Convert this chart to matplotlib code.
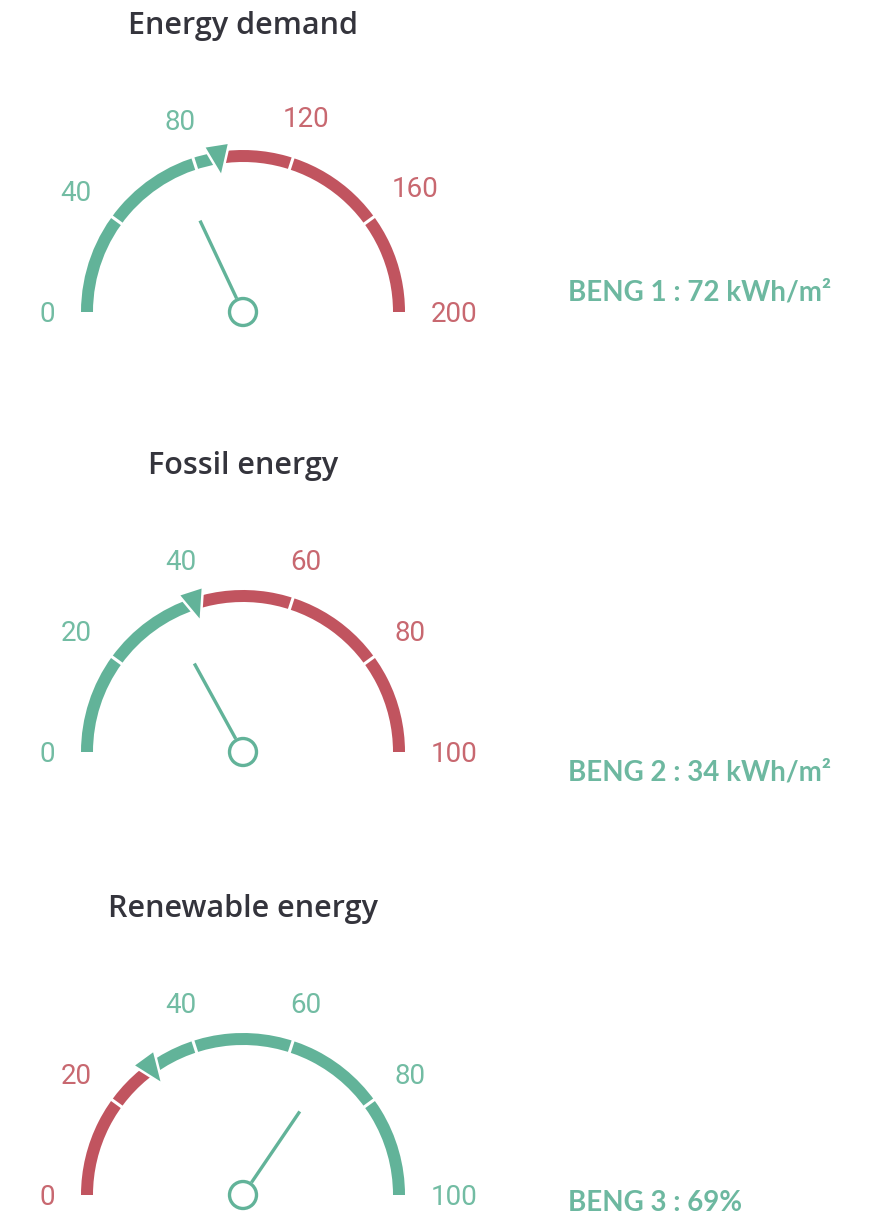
import matplotlib.pyplot as plt
from matplotlib.patches import Wedge, Circle, Polygon
import numpy as np

# gauge definitions
titles = ["Energy demand", "Fossil energy", "Renewable energy"]
scale_max = [200, 100, 100]
tick_step = [40, 20, 20]
thresholds = [90, 40, 30]
values = [72, 34, 69]
low_is_good = [True, True, False]
units = [" kWh/m²", " kWh/m²", "%"]

GREEN = "#62b399"
RED = "#c1545f"
GREEN_TXT = "#72bca3"
RED_TXT = "#c86870"
BENG_TXT = "#6db8a0"

W_PX, H_PX = 881, 1216
CX = 243
CENTERS = [312, 752, 1195]      # gauge hub rows, pixels from top
BENG_BASE = [300, 781, 1211]
R, ARC_W = 156, 12

fig = plt.figure(figsize=(W_PX / 100, H_PX / 100), dpi=100)
ax = fig.add_axes([0, 0, 1, 1])
ax.set_xlim(0, W_PX)
ax.set_ylim(0, H_PX)
ax.axis("off")


def ang(v, vmax):
    return 180.0 - 180.0 * v / vmax


def polar(cx, cy, r, deg):
    a = np.radians(deg)
    return cx + r * np.cos(a), cy + r * np.sin(a)


for i in range(len(titles)):
    vmax, step, thr, val = scale_max[i], tick_step[i], thresholds[i], values[i]
    cx, cy = CX, H_PX - CENTERS[i]
    lo_col, hi_col = (GREEN, RED) if low_is_good[i] else (RED, GREEN)
    lo_txt, hi_txt = (GREEN_TXT, RED_TXT) if low_is_good[i] else (RED_TXT, GREEN_TXT)

    # coloured bands
    t_thr = ang(thr, vmax)
    ax.add_patch(Wedge((cx, cy), R + ARC_W / 2, t_thr, 180, width=ARC_W,
                       facecolor=lo_col, lw=0))
    ax.add_patch(Wedge((cx, cy), R + ARC_W / 2, 0, t_thr, width=ARC_W,
                       facecolor=hi_col, lw=0))

    ticks = np.arange(0, vmax + 1, step)
    for t in ticks[1:-1]:
        a = ang(t, vmax)
        x0, y0 = polar(cx, cy, R - ARC_W, a)
        x1, y1 = polar(cx, cy, R + ARC_W, a)
        ax.plot([x0, x1], [y0, y1], color="white", lw=2.2, solid_capstyle="butt")

    # tick labels
    for t in ticks:
        a = ang(t, vmax)
        s = str(int(t))
        w = 15.7 * len(s)
        rr = R + 32 + 0.5 * w * abs(np.cos(np.radians(a))) + 10 * abs(np.sin(np.radians(a)))
        tx, ty = polar(cx, cy, rr, a)
        ax.text(tx, ty - 10, s, ha="center", va="baseline", fontsize=20,
                family="Roboto", color=lo_txt if t <= thr else hi_txt)

    # threshold marker
    half = np.degrees(13 / 170)
    tri = [polar(cx, cy, 170, t_thr + half), polar(cx, cy, 170, t_thr - half),
           polar(cx, cy, 137, t_thr)]
    ax.add_patch(Polygon(tri, closed=True, facecolor=GREEN, edgecolor="white",
                         lw=1.8, joinstyle="miter", zorder=3))

    # needle and hub
    a = ang(val, vmax)
    x0, y0 = polar(cx, cy, 15, a)
    x1, y1 = polar(cx, cy, 101, a)
    ax.plot([x0, x1], [y0, y1], color=GREEN, lw=2.4, solid_capstyle="butt", zorder=4)
    ax.add_patch(Circle((cx, cy), 13.5, facecolor="white", edgecolor=GREEN,
                        lw=2.4, zorder=5))

    ax.text(cx, cy + 278, titles[i], ha="center", va="baseline", fontsize=22,
            family="Open Sans", weight="semibold", color="#34343c")

    ax.text(568, H_PX - BENG_BASE[i], f"BENG {i + 1} : {val}{units[i]}",
            ha="left", va="baseline", fontsize=20, family="Lato",
            weight="bold", color=BENG_TXT)

fig.savefig("out.png", dpi=100, facecolor="white")
